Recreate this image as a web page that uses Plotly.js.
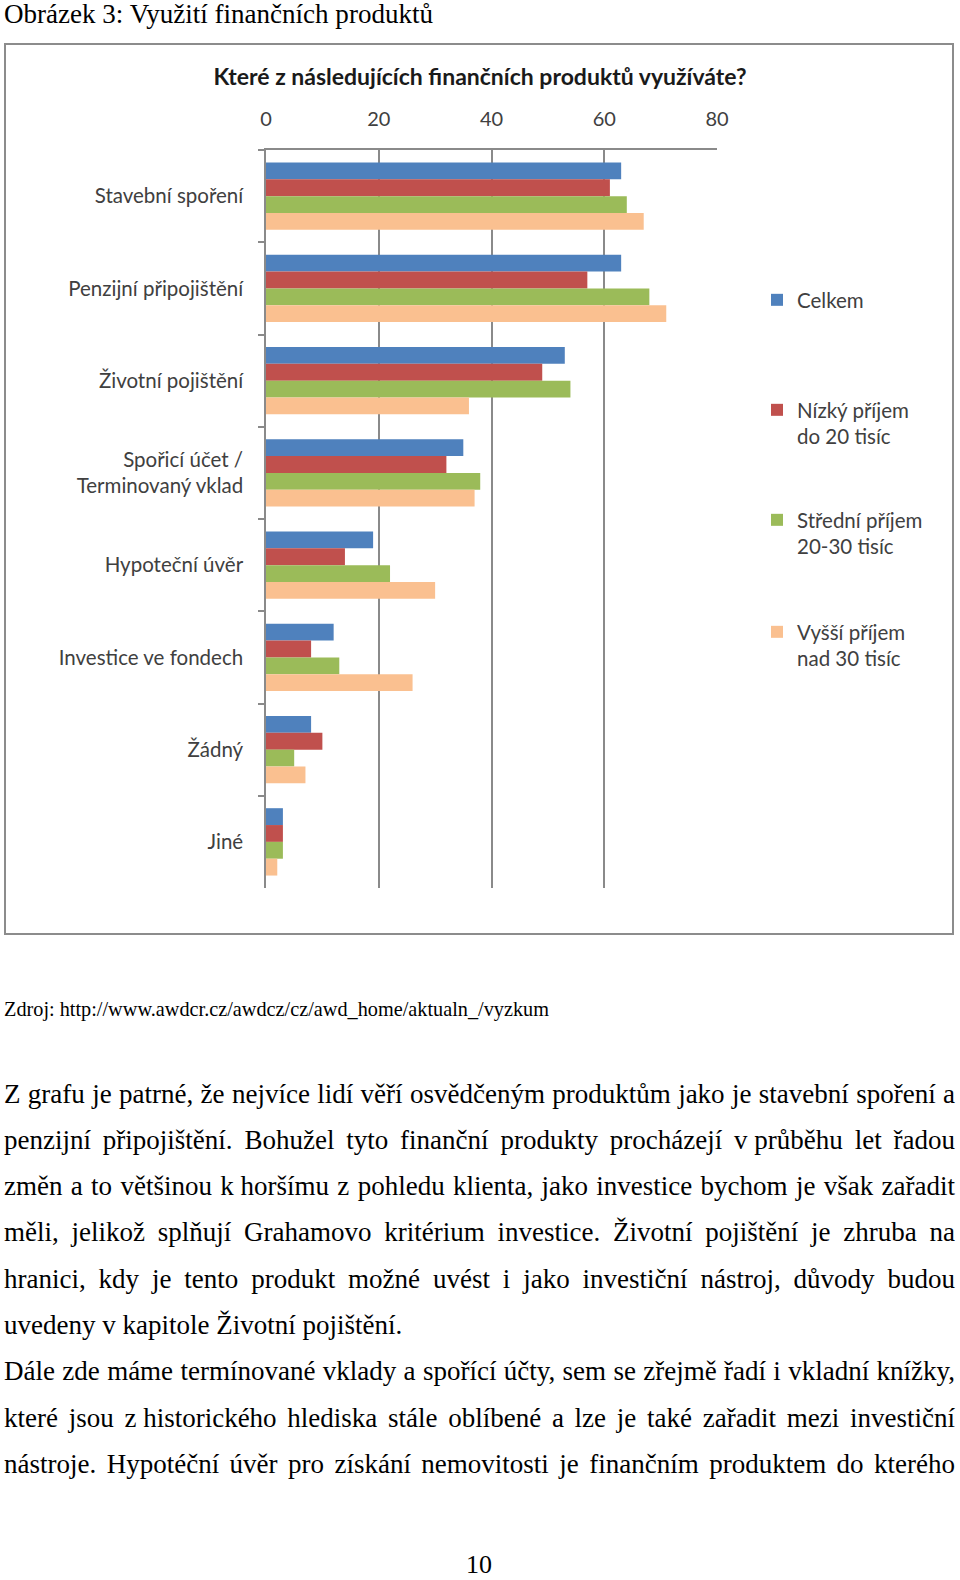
<!DOCTYPE html>
<html><head><meta charset="utf-8">
<script src="https://cdn.plot.ly/plotly-3.0.1.min.js"></script>
<style>
html,body{margin:0;padding:0;background:#fff;}
#page{position:relative;width:960px;height:1580px;overflow:hidden;background:#fff;}
#frame{position:absolute;left:4px;top:43px;width:946px;height:888px;border:2px solid #8c8c8c;}
#chart{position:absolute;left:0;top:0;width:960px;height:1580px;}
.tx{position:absolute;white-space:nowrap;font-family:"Liberation Serif","Times New Roman",serif;color:#000;transform-origin:0 0;line-height:1;}
</style></head>
<body><div id="page"><div id="frame"></div><div id="chart"></div><div id="text"></div></div>
<script>
// ---- chart data ----
const categories = ["Stavební spoření", "Penzijní připojištění", "Životní pojištění",
  "Spořicí účet /<br>Terminovaný vklad", "Hypoteční úvěr", "Investice ve fondech", "Žádný", "Jiné"];
const seriesNames = ["Celkem", "Nízký příjem<br>do 20 tisíc", "Střední příjem<br>20-30 tisíc", "Vyšší příjem<br>nad 30 tisíc"];
const celkem  = [63, 63, 53, 35, 19, 12, 8, 3];
const nizky   = [61, 57, 49, 32, 14, 8, 10, 3];
const stredni = [64, 68, 54, 38, 22, 13, 5, 3];
const vyssi   = [67, 71, 36, 37, 30, 26, 7, 2];
const xTicks  = [0, 20, 40, 60, 80];
const chartTitle = "Které z následujících finančních produktů využíváte?";

// ---- page text ----
const captionText = "Obrázek 3: Využití finančních produktů";
const sourceText = "Zdroj: http://www.awdcr.cz/awdcz/cz/awd_home/aktualn_/vyzkum";
const bodyLines = [
  "Z grafu je patrné, že nejvíce lidí věří osvědčeným produktům jako je stavební spoření a",
  "penzijní připojištění. Bohužel tyto finanční produkty procházejí v\u00A0průběhu let řadou",
  "změn a to většinou k\u00A0horšímu z pohledu klienta, jako investice bychom je však zařadit",
  "měli, jelikož splňují Grahamovo kritérium investice. Životní pojištění je zhruba na",
  "hranici, kdy je tento produkt možné uvést i jako investiční nástroj, důvody budou",
  "uvedeny v\u00A0kapitole Životní pojištění.",
  "Dále zde máme termínované vklady a spořící účty, sem se zřejmě řadí i vkladní knížky,",
  "které jsou z\u00A0historického hlediska stále oblíbené a lze je také zařadit mezi investiční",
  "nástroje. Hypotéční úvěr pro získání nemovitosti je finančním produktem do kterého"
];
const justified = [true, true, true, true, true, false, true, true, true];
const pageNumber = "10";

// ---- chart ----
const colors = ["#4F81BD", "#C0504D", "#9BBB59", "#FAC090"];
const values = [celkem, nizky, stredni, vyssi];
const legendIds = ["legend", "legend2", "legend3", "legend4"];

const plotL = 266, plotR = 717, plotT = 150, plotB = 888;
const pxToPaperX = px => (px - plotL) / (plotR - plotL);
const pxToPaperY = py => (plotB - py) / (plotB - plotT);

const traces = values.map((v, i) => ({
  type: "bar", orientation: "h",
  x: v, y: categories, name: seriesNames[i],
  marker: {color: colors[i]},
  legend: legendIds[i],
  hoverinfo: "x+name"
}));

const fam = "Lato, 'Open Sans', sans-serif";
const tickFontY = {family: fam, size: 20.5, color: "#404040"};
const tickFontX = {family: fam, size: 20, color: "#404040"};
const legFont = {family: fam, size: 20.5, color: "#404040"};
const legendTops = [280, 390, 500, 612];
const layout = {
  width: 960, height: 1580,
  paper_bgcolor: "rgba(0,0,0,0)", plot_bgcolor: "rgba(0,0,0,0)",
  margin: {l: plotL, r: 960 - plotR, t: plotT, b: 1580 - plotB, pad: 0},
  barmode: "group", bargap: 0.27, bargroupgap: 0,
  title: {text: chartTitle, font: {family: fam, size: 23, color: "#1a1a1a", weight: 700},
    x: 0.5, xref: "container", y: 1 - 76.5 / 1580, yref: "container", yanchor: "middle"},
  xaxis: {side: "top", range: [0, 80], tickvals: xTicks, ticktext: xTicks.map(String),
    showgrid: true, gridcolor: "#8a8a8a", gridwidth: 1.5, zeroline: false,
    showline: true, linecolor: "#8a8a8a", linewidth: 1.5, ticks: "",
    tickfont: tickFontX, ticklabelstandoff: 14, fixedrange: true},
  yaxis: {type: "category", autorange: "reversed", showgrid: false, zeroline: false,
    showline: true, linecolor: "#8a8a8a", linewidth: 1.5,
    ticks: "outside", ticklen: 6, tickwidth: 1.5, tickcolor: "#8a8a8a", tickson: "boundaries",
    tickfont: tickFontY, ticklabelstandoff: 17, fixedrange: true},
  showlegend: true
};
legendIds.forEach((id, i) => {
  layout[id] = {x: pxToPaperX(757), xanchor: "left", y: pxToPaperY(legendTops[i]), yanchor: "top",
    valign: "top", font: legFont, bgcolor: "rgba(0,0,0,0)", borderwidth: 0,
    itemclick: false, itemdoubleclick: false};
});

Plotly.newPlot("chart", traces, layout, {displayModeBar: false});

// ---- page text rendering ----
const textRoot = document.getElementById("text");
function esc(s){return s.replace(/&/g,"&amp;").replace(/</g,"&lt;");}
function addLine(str, opts){
  const d = document.createElement("div");
  d.className = "tx";
  d.style.fontSize = opts.fs + "px";
  const tokens = str.split(" ");
  d.innerHTML = tokens.map(t => t.indexOf("\u00A0") >= 0 ? '<span style="word-spacing:0">' + esc(t) + '</span>' : esc(t)).join(" ");
  textRoot.appendChild(d);
  const w = d.getBoundingClientRect().width;
  let sx = opts.sx || 1.0;
  if (opts.fitWidth) {
    sx = opts.fitWidth / w;
  } else if (opts.justify) {
    const n = tokens.length - 1;
    const ws = (opts.target / sx - w) / n;
    if (ws >= -1) d.style.wordSpacing = ws + "px";
    else sx = opts.target / w;
  }
  const fs = opts.fs;
  const top = opts.cy - 0.6075 * fs;
  let left = opts.left;
  if (opts.centerX !== undefined) {
    left = opts.centerX - w * sx / 2;
  }
  d.style.left = left + "px";
  d.style.top = top + "px";
  d.style.transform = "scaleX(" + sx + ")";
}
addLine(captionText, {fs: 26.5, left: 4, cy: 17, fitWidth: 429});
addLine(sourceText, {fs: 21, left: 4, cy: 1012, fitWidth: 545});
bodyLines.forEach((ln, i) => {
  addLine(ln, {fs: 27, left: 4, cy: 1097 + 46.3 * i, justify: justified[i], target: 951});
});
addLine(pageNumber, {fs: 26, centerX: 479, cy: 1568});
</script>
</body></html>
